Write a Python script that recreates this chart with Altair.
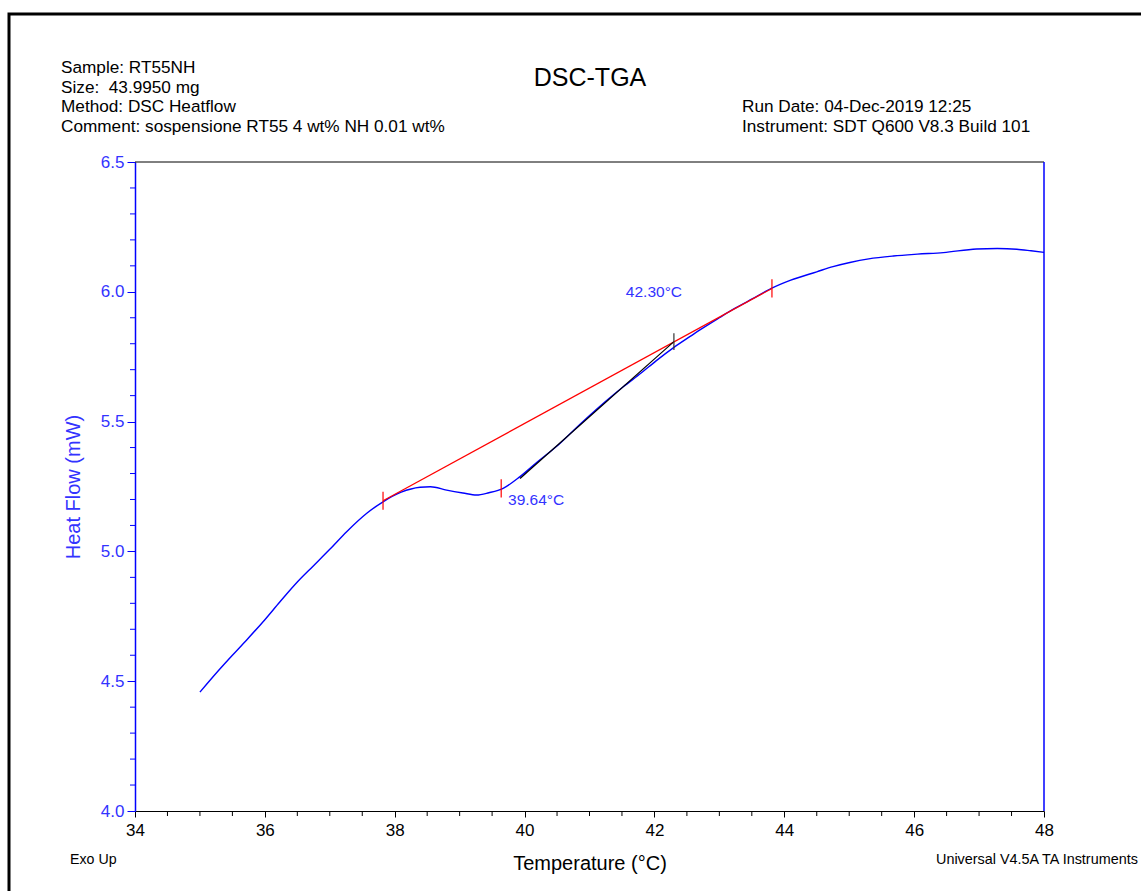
import altair as alt
import pandas as pd

# ---- data ----
temp = [35.00, 35.30, 35.50, 35.72, 36.00, 36.23, 36.50, 36.75, 37.00, 37.26, 37.57, 37.82,
        38.10, 38.39, 38.55, 38.80, 39.05, 39.26, 39.45, 39.67, 39.93, 40.20, 40.49, 40.75,
        41.01, 41.25, 41.52, 41.80, 42.03, 42.29, 42.55, 42.70, 43.00, 43.21, 43.57, 43.80,
        44.10, 44.50, 44.75, 45.01, 45.30, 45.68, 46.05, 46.45, 46.96, 47.28, 47.58, 47.80, 48.00]
heat = [4.458, 4.545, 4.600, 4.659, 4.737, 4.805, 4.882, 4.945, 5.008, 5.076, 5.147, 5.191,
        5.228, 5.247, 5.249, 5.236, 5.225, 5.217, 5.226, 5.243, 5.288, 5.345, 5.404, 5.465,
        5.525, 5.578, 5.634, 5.688, 5.735, 5.784, 5.828, 5.853, 5.900, 5.932, 5.981, 6.013,
        6.045, 6.077, 6.097, 6.113, 6.127, 6.138, 6.145, 6.151, 6.165, 6.167, 6.164, 6.158, 6.152]

baseline_t = [37.82, 43.81]
baseline_h = [5.195, 6.013]
tangent_t = [39.93, 42.30]
tangent_h = [5.281, 5.808]

red_tick_t = [37.82, 39.64, 43.81]
red_tick_h = [5.195, 5.243, 6.013]
black_tick_t = [42.30]
black_tick_h = [5.808]

annot_text = ["39.64°C", "42.30°C"]
annot_t = [39.745, 41.56]
annot_h = [5.198, 5.999]

x_major = [34, 36, 38, 40, 42, 44, 46, 48]
x_minor = [34.5, 35, 35.5, 36.5, 37, 37.5, 38.5, 39, 39.5, 40.5, 41, 41.5,
           42.5, 43, 43.5, 44.5, 45, 45.5, 46.5, 47, 47.5]
y_major = [4.0, 4.5, 5.0, 5.5, 6.0, 6.5]
y_minor = [4.1, 4.2, 4.3, 4.4, 4.6, 4.7, 4.8, 4.9, 5.1, 5.2, 5.3, 5.4,
           5.6, 5.7, 5.8, 5.9, 6.1, 6.2, 6.3, 6.4]

header_left = ["Sample: RT55NH", "Size:\u00a0 43.9950 mg", "Method: DSC Heatflow",
               "Comment: sospensione RT55 4 wt% NH 0.01 wt%"]
header_right = ["Run Date: 04-Dec-2019 12:25", "Instrument: SDT Q600 V8.3 Build 101"]
title_text = "DSC-TGA"
foot_left = "Exo Up"
foot_right = "Universal V4.5A TA Instruments"

W, H = 909, 649
FONT = "Liberation Sans"
BLUE = "#0000ff"
LBLUE = "#3333ff"

xs = alt.Scale(domain=[34, 48], nice=False, zero=False)
ys = alt.Scale(domain=[4.0, 6.5], nice=False, zero=False)

x_axis = alt.Axis(values=x_major, format="d", grid=False, domainColor="black",
                  tickColor="black", tickSize=6, labelColor="black",
                  labelFontSize=17, labelFont=FONT, labelPadding=5, labelFlush=False,
                  titleFont=FONT, titleFontSize=20, titleFontWeight="normal",
                  titleColor="black", titlePadding=15)
y_axis = alt.Axis(values=y_major, format=".1f", grid=False, domainColor=BLUE,
                  domainWidth=1.5, tickColor=BLUE, tickSize=8, labelColor=LBLUE,
                  labelFontSize=17, labelFont=FONT, labelPadding=3, labelFlush=False,
                  titleFont=FONT, titleFontSize=20, titleFontWeight="normal",
                  titleColor=LBLUE, titlePadding=17)
XT = "Temperature (°C)"
YT = "Heat Flow (mW)"


def X(field):
    return alt.X(field, type="quantitative", scale=xs, axis=x_axis, title=XT)


def Y(field):
    return alt.Y(field, type="quantitative", scale=ys, axis=y_axis, title=YT)


curve_df = pd.DataFrame({"t": temp, "h": heat})
curve = alt.Chart(curve_df).mark_line(color=BLUE, strokeWidth=1.4, interpolate="monotone").encode(
    x=X("t"), y=Y("h"), order="t:Q")

base_df = pd.DataFrame({"t": baseline_t, "h": baseline_h})
baseline = alt.Chart(base_df).mark_line(color="#ff0000", strokeWidth=1.2).encode(
    x=X("t"), y=Y("h"))

tan_df = pd.DataFrame({"t": tangent_t, "h": tangent_h})
tangent = alt.Chart(tan_df).mark_line(color="black", strokeWidth=1.2).encode(
    x=X("t"), y=Y("h"))

rt_df = pd.DataFrame({"t": red_tick_t, "h": red_tick_h})
red_ticks = alt.Chart(rt_df).transform_calculate(
    lo="datum.h - 0.035", hi="datum.h + 0.035").mark_rule(color="#ff0000", strokeWidth=1.2).encode(
    x=X("t"), y=Y("lo"), y2="hi:Q")

bt_df = pd.DataFrame({"t": black_tick_t, "h": black_tick_h})
black_ticks = alt.Chart(bt_df).transform_calculate(
    lo="datum.h - 0.032", hi="datum.h + 0.032").mark_rule(color="#333333", strokeWidth=1.2).encode(
    x=X("t"), y=Y("lo"), y2="hi:Q")

an_df = pd.DataFrame({"t": annot_t, "h": annot_h, "label": annot_text})
annots = alt.Chart(an_df).mark_text(color=LBLUE, font=FONT, fontSize=15.5, align="left",
                                    baseline="middle").encode(
    x=X("t"), y=Y("h"), text="label:N")

xm_df = pd.DataFrame({"t": x_minor})
x_minor_ticks = alt.Chart(xm_df).mark_rule(color="black").encode(
    x=X("t"), y=alt.value(H), y2=alt.value(H + 5))

ym_df = pd.DataFrame({"h": y_minor})
y_minor_ticks = alt.Chart(ym_df).mark_rule(color=BLUE).encode(
    y=Y("h"), x=alt.value(-5), x2=alt.value(0))

one = alt.Data(values=[{"a": 1}])
top_rule = alt.Chart(one).mark_rule(color="black", strokeWidth=1).encode(
    x=alt.value(0), x2=alt.value(W), y=alt.value(0))
right_rule = alt.Chart(one).mark_rule(color=BLUE, strokeWidth=1.5).encode(
    x=alt.value(W), y=alt.value(0), y2=alt.value(H))
frame = alt.Chart(one).mark_rect(fill=None, stroke="black", strokeWidth=3).encode(
    x=alt.value(-126), x2=alt.value(1015), y=alt.value(-148), y2=alt.value(740))


def txt(s, x, y, size=16, align="left", color="black"):
    return alt.Chart(one).mark_text(text=s, font=FONT, fontSize=size, align=align,
                                    baseline="middle", color=color).encode(
        x=alt.value(x), y=alt.value(y))


texts = []
for i, s in enumerate(header_left):
    texts.append(txt(s, -74, -94 + i * 19.7, 17.2))
for i, s in enumerate(header_right):
    texts.append(txt(s, 607, -55 + i * 20, 17.2))
texts.append(txt(title_text, 455, -84, 25, align="center"))
texts.append(txt(foot_left, -65, 698, 14.2))
texts.append(txt(foot_right, 801, 698, 14.4))

chart = alt.layer(
    curve, baseline, tangent, red_ticks, black_ticks, annots,
    x_minor_ticks, y_minor_ticks, top_rule, right_rule, frame, *texts
).properties(
    width=W, height=H,
    autosize=alt.AutoSizeParams(type="none"),
    padding={"left": 135, "top": 162, "right": 97, "bottom": 80},
    background="white",
).configure_view(stroke=None)

chart.save("out.html", embed_options={"renderer": "svg", "actions": False})
